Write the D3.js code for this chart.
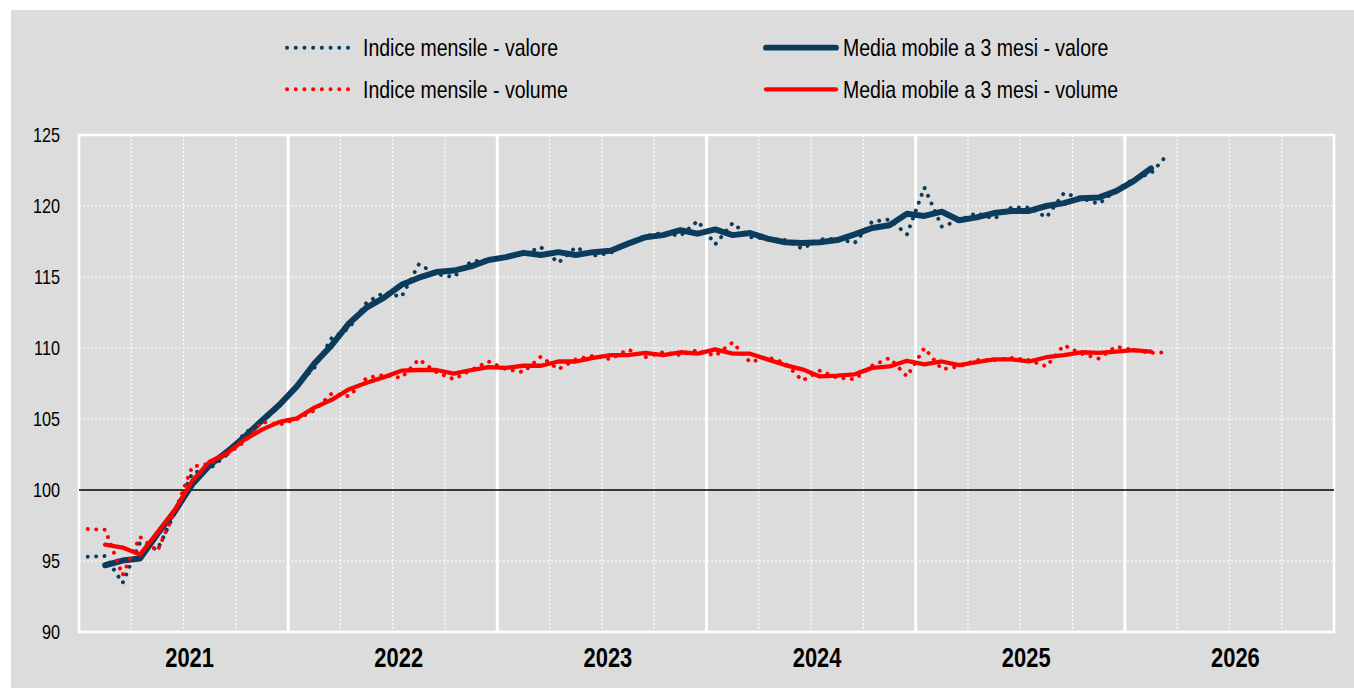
<!DOCTYPE html>
<html>
<head>
<meta charset="utf-8">
<script src="https://cdn.jsdelivr.net/npm/d3@7"></script>
<style>
  html, body { margin: 0; padding: 0; background: #ffffff; }
  svg { display: block; }
</style>
</head>
<body>
<svg id="chart" width="1354" height="688"></svg>
<script>
// ---------------- DATA ----------------
const years = ["2021", "2022", "2023", "2024", "2025", "2026"];
const yTicks = [90, 95, 100, 105, 110, 115, 120, 125];
const firstMonthIndice = "2021-01";
const firstMonthMedia = "2021-02";

const seriesNames = [
  "Indice mensile - valore",
  "Media mobile a 3 mesi - valore",
  "Indice mensile - volume",
  "Media mobile a 3 mesi - volume"
];

const indiceValore = [
  95.3, 95.35, 93.45, 96.3, 95.8, 98.4, 101.2, 101.5, 102.5, 104.0, 104.8, 105.9,
  107.4, 108.6, 110.7, 111.4, 113.2, 113.9, 113.6, 115.9, 115.2, 115.0, 116.1, 116.2,
  116.4, 116.6, 117.1, 116.0, 117.1, 116.5, 116.7, 117.4, 117.9, 118.1, 117.9, 118.95,
  117.3, 118.8, 117.8, 117.7, 117.6, 117.0, 117.65, 117.7, 117.4, 118.9, 119.05, 118.0,
  121.3, 118.55, 119.0, 119.5, 119.1, 119.9, 119.9, 119.2, 120.9, 120.55, 120.15, 121.1,
  121.9, 122.3, 123.7
];

const indiceVolume = [
  97.25, 97.2, 94.0, 96.7, 95.7, 98.5, 101.65, 101.85, 102.5, 103.4, 104.8, 104.6,
  105.0, 105.6, 106.8, 106.6, 107.9, 108.1, 107.9, 109.2, 108.3, 107.8, 108.45, 109.05,
  108.5, 108.3, 109.4, 108.5, 109.2, 109.45, 109.2, 109.9, 109.35, 109.7, 109.5, 109.85,
  109.45, 110.4, 109.0, 109.35, 108.95, 107.7, 108.4, 107.9, 107.8, 108.75, 109.3, 108.0,
  110.0, 108.5, 108.7, 109.15, 109.15, 109.3, 109.15, 108.7, 110.2, 109.6, 109.25, 110.1,
  109.85, 109.65, 109.7
];

const mediaValore = [
  94.7, 95.03, 95.18, 96.9, 98.5, 100.4, 101.75, 102.7, 103.75, 104.9, 106.0,
  107.3, 108.9, 110.2, 111.75, 112.85, 113.55, 114.45, 114.95, 115.35, 115.45, 115.75, 116.2,
  116.4, 116.7, 116.55, 116.75, 116.55, 116.75, 116.85, 117.35, 117.8, 117.95, 118.3, 118.05,
  118.35, 117.95, 118.1, 117.7, 117.45, 117.4, 117.45, 117.6, 118.0, 118.45, 118.65, 119.45,
  119.3, 119.6, 119.0, 119.2, 119.5, 119.65, 119.65, 120.0, 120.2, 120.55, 120.6, 121.05,
  121.75, 122.65
];

const mediaVolume = [
  96.15, 95.95, 95.45, 97.0, 98.6, 100.65, 102.0, 102.6, 103.55, 104.25, 104.8,
  105.05, 105.8, 106.35, 107.1, 107.55, 107.95, 108.4, 108.45, 108.45, 108.2, 108.45, 108.65,
  108.6, 108.75, 108.75, 109.05, 109.05, 109.3, 109.5, 109.5, 109.65, 109.5, 109.7, 109.6,
  109.9, 109.6, 109.6, 109.2, 108.8, 108.5, 108.0, 108.05, 108.15, 108.6, 108.7, 109.1,
  108.85, 109.05, 108.8, 109.0, 109.2, 109.2, 109.05, 109.35, 109.5, 109.7, 109.65, 109.75,
  109.85, 109.75
];

// ---------------- STYLE ----------------
const NAVY = "#0b3c5d";
const RED = "#ff0000";
const PANEL = "#dcdcdc";
const FONT = "'Liberation Sans Narrow','Arial Narrow','Liberation Sans',Arial,sans-serif";

const svg = d3.select("#chart");
const W = 1354, H = 688;
const plot = { left: 79, right: 1334, top: 135, bottom: 632 };

// panel background
svg.append("rect").attr("x", 11).attr("y", 10).attr("width", W - 11).attr("height", H - 10).attr("fill", PANEL);

// scales
const months = years.flatMap(y => d3.range(1, 13).map(m => `${y}-${String(m).padStart(2, "0")}`));
const x = d3.scaleBand().domain(months).range([plot.left, plot.right]).padding(0);
const xm = m => x(m) + x.bandwidth() / 2;
const y = d3.scaleLinear().domain([90, 125]).range([plot.bottom, plot.top]);

const texts = [];
function addText(str, px, py, anchor, size, weight) {
  const t = svg.append("text")
    .attr("transform", `translate(${px},${py})`)
    .attr("text-anchor", anchor)
    .attr("font-family", FONT)
    .attr("font-size", size)
    .attr("font-weight", weight || "normal")
    .attr("fill", "#000")
    .text(str);
  texts.push({ t, px, py });
  return t;
}

// horizontal dotted gridlines
const grid = svg.append("g");
yTicks.filter(v => v !== 90 && v !== 125 && v !== 100).forEach(v => {
  grid.append("line")
    .attr("x1", plot.left).attr("x2", plot.right)
    .attr("y1", y(v)).attr("y2", y(v))
    .attr("stroke", "#ffffff").attr("stroke-width", 1.2)
    .attr("stroke-dasharray", "2,2");
});

// vertical quarter gridlines (dotted) and year separators (solid)
months.forEach((m, i) => {
  if (i === 0) return;
  const xx = x(m);
  if (i % 12 === 0) {
    grid.append("line").attr("x1", xx).attr("x2", xx).attr("y1", plot.top).attr("y2", plot.bottom)
      .attr("stroke", "#ffffff").attr("stroke-width", 3);
  } else if (i % 3 === 0) {
    grid.append("line").attr("x1", xx).attr("x2", xx).attr("y1", plot.top).attr("y2", plot.bottom)
      .attr("stroke", "#ffffff").attr("stroke-width", 1.2).attr("stroke-dasharray", "2,2");
  }
});

// plot frame
svg.append("rect")
  .attr("x", plot.left).attr("y", plot.top)
  .attr("width", plot.right - plot.left).attr("height", plot.bottom - plot.top)
  .attr("fill", "none").attr("stroke", "#ffffff").attr("stroke-width", 2.6);

// 100 baseline
svg.append("line")
  .attr("x1", plot.left).attr("x2", plot.right)
  .attr("y1", y(100)).attr("y2", y(100))
  .attr("stroke", "#000000").attr("stroke-width", 1.6);

// y tick labels
yTicks.forEach(v => addText(String(v), 60, y(v) + 7.2, "end", 20));

// year labels
years.forEach((yr, k) => {
  const x0 = x(`${yr}-01`), x1 = x(`${yr}-12`) + x.bandwidth();
  addText(yr, (x0 + x1) / 2 + 6, 667, "middle", 27, "bold");
});

// lines
const startIdxIndice = months.indexOf(firstMonthIndice);
const startIdxMedia = months.indexOf(firstMonthMedia);
const lineGen = start => d3.line()
  .x((d, i) => xm(months[start + i]))
  .y(d => y(d));

const dotted = { width: 3.9, dash: "0.1,8.3" };

svg.append("path").datum(indiceValore)
  .attr("d", lineGen(startIdxIndice)).attr("fill", "none")
  .attr("stroke", NAVY).attr("stroke-width", dotted.width)
  .attr("stroke-linecap", "round").attr("stroke-dasharray", dotted.dash);

svg.append("path").datum(mediaValore)
  .attr("d", lineGen(startIdxMedia)).attr("fill", "none")
  .attr("stroke", NAVY).attr("stroke-width", 6)
  .attr("stroke-linejoin", "round").attr("stroke-linecap", "round");

svg.append("path").datum(indiceVolume)
  .attr("d", lineGen(startIdxIndice)).attr("fill", "none")
  .attr("stroke", RED).attr("stroke-width", dotted.width)
  .attr("stroke-linecap", "round").attr("stroke-dasharray", dotted.dash);

svg.append("path").datum(mediaVolume)
  .attr("d", lineGen(startIdxMedia)).attr("fill", "none")
  .attr("stroke", RED).attr("stroke-width", 4.3)
  .attr("stroke-linejoin", "round").attr("stroke-linecap", "round");

// legend
const legendItems = [
  { name: seriesNames[0], color: NAVY, dotted: true, w: 3.9, lx: 286, ly: 47.7 },
  { name: seriesNames[1], color: NAVY, dotted: false, w: 5.8, lx: 766, ly: 47.7 },
  { name: seriesNames[2], color: RED, dotted: true, w: 3.9, lx: 286, ly: 89.3 },
  { name: seriesNames[3], color: RED, dotted: false, w: 4.3, lx: 766, ly: 89.3 }
];
legendItems.forEach(it => {
  const p = svg.append("line")
    .attr("x1", it.lx + (it.dotted ? 1 : 0)).attr("x2", it.lx + 70)
    .attr("y1", it.ly).attr("y2", it.ly)
    .attr("stroke", it.color).attr("stroke-width", it.w)
    .attr("stroke-linecap", "round");
  if (it.dotted) p.attr("stroke-dasharray", "0.1,8.6");
  addText(it.name, it.lx + 77, it.ly + 8.4, "start", 24);
});

// calibrate text width to the reference's narrow face
const probe = texts.find(o => o.t.text() === seriesNames[0]);
const measured = probe.t.node().getComputedTextLength();
let ratio = 195 / measured;
ratio = Math.max(0.75, Math.min(1.1, ratio));
texts.forEach(o => o.t.attr("transform", `translate(${o.px},${o.py}) scale(${ratio},1)`));
</script>
</body>
</html>
